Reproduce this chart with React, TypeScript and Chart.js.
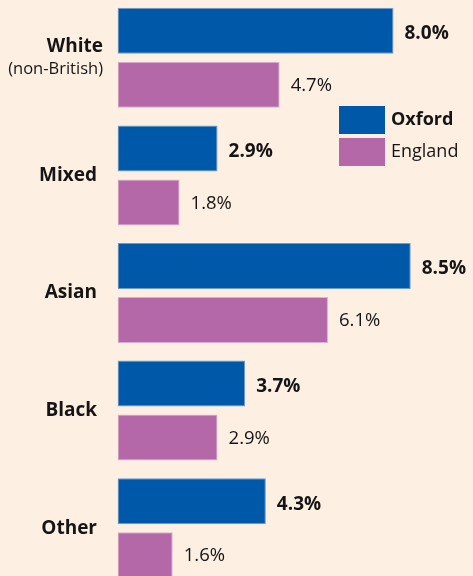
import React, { useEffect, useRef } from "react";
import { Chart, registerables } from "chart.js";

Chart.register(...registerables);

const categories = ["White", "Mixed", "Asian", "Black", "Other"];
const categorySubtitles = ["(non-British)", "", "", "", ""];
const oxfordValues = [8.0, 2.9, 8.5, 3.7, 4.3];
const englandValues = [4.7, 1.8, 6.1, 2.9, 1.6];
const seriesNames = ["Oxford", "England"];

const BG = "#fdf0e3";
const BLUE = "#0059a8";
const PINK = "#b468a8";
const TEXT = "#151515";
const FONT = "'Open Sans', 'Noto Sans', sans-serif";

export default function App() {
  const ref = useRef<HTMLCanvasElement | null>(null);

  useEffect(() => {
    document.body.style.margin = "0";
    document.body.style.background = BG;
    const canvas = ref.current;
    if (!canvas) return;

    const customPlugin = {
      id: "custom",
      beforeDraw(chart: any) {
        const { ctx, width, height } = chart;
        ctx.save();
        ctx.fillStyle = BG;
        ctx.fillRect(0, 0, width, height);
        ctx.restore();
      },
      afterDraw(chart: any) {
        const { ctx } = chart;
        const yScale = chart.scales.y;
        ctx.save();
        ctx.fillStyle = TEXT;
        ctx.textBaseline = "middle";
        categories.forEach((cat, i) => {
          const y = yScale.getPixelForValue(i);
          const sub = categorySubtitles[i];
          ctx.textAlign = "right";
          if (sub) {
            ctx.font = `bold 19px ${FONT}`;
            ctx.fillText(cat, 103, y - 11);
            ctx.font = `16.5px ${FONT}`;
            ctx.fillText(sub, 103, y + 11);
          } else {
            ctx.font = `bold 19px ${FONT}`;
            ctx.fillText(cat, 97, y);
          }
        });
        chart.data.datasets.forEach((ds: any, di: number) => {
          const meta = chart.getDatasetMeta(di);
          meta.data.forEach((bar: any, i: number) => {
            ctx.textAlign = "left";
            ctx.font = di === 0 ? `bold 19px ${FONT}` : `18.5px ${FONT}`;
            ctx.fillText(ds.data[i].toFixed(1) + "%", bar.x + 11, bar.y + (di === 0 ? 3 : 1));
          });
        });
        const lx = 339;
        const ly = [107, 139];
        chart.data.datasets.forEach((ds: any, di: number) => {
          ctx.fillStyle = ds.backgroundColor;
          ctx.fillRect(lx, ly[di], 46, 28);
          ctx.fillStyle = TEXT;
          ctx.textAlign = "left";
          ctx.font = di === 0 ? `bold 18px ${FONT}` : `18px ${FONT}`;
          ctx.fillText(ds.label, lx + 52, ly[di] + 14);
        });
        ctx.restore();
      },
    };

    const chart = new Chart(canvas, {
      type: "bar",
      data: {
        labels: categories,
        datasets: [
          {
            label: seriesNames[0],
            data: oxfordValues,
            backgroundColor: BLUE,
            borderColor: "#6f9bcb",
            borderWidth: 1,
            borderSkipped: false,
            categoryPercentage: 0.9184,
            barPercentage: 0.852,
          },
          {
            label: seriesNames[1],
            data: englandValues,
            backgroundColor: PINK,
            borderColor: "#dcaed3",
            borderWidth: 1,
            borderSkipped: false,
            categoryPercentage: 0.9184,
            barPercentage: 0.852,
          },
        ],
      },
      options: {
        indexAxis: "y",
        responsive: false,
        animation: false,
        devicePixelRatio: 1,
        layout: { padding: { left: 117.5, right: 10.5, top: 0, bottom: 0 } },
        plugins: {
          legend: { display: false },
          tooltip: { enabled: false },
        },
        scales: {
          x: { display: false, min: 0, max: 10 },
          y: { display: false },
        },
      },
      plugins: [customPlugin],
    } as any);

    return () => chart.destroy();
  }, []);

  return (
    <div style={{ width: 473, height: 576, overflow: "hidden", background: BG }}>
      <canvas
        ref={ref}
        width={473}
        height={588}
        style={{ display: "block", marginTop: -1 }}
      />
    </div>
  );
}
